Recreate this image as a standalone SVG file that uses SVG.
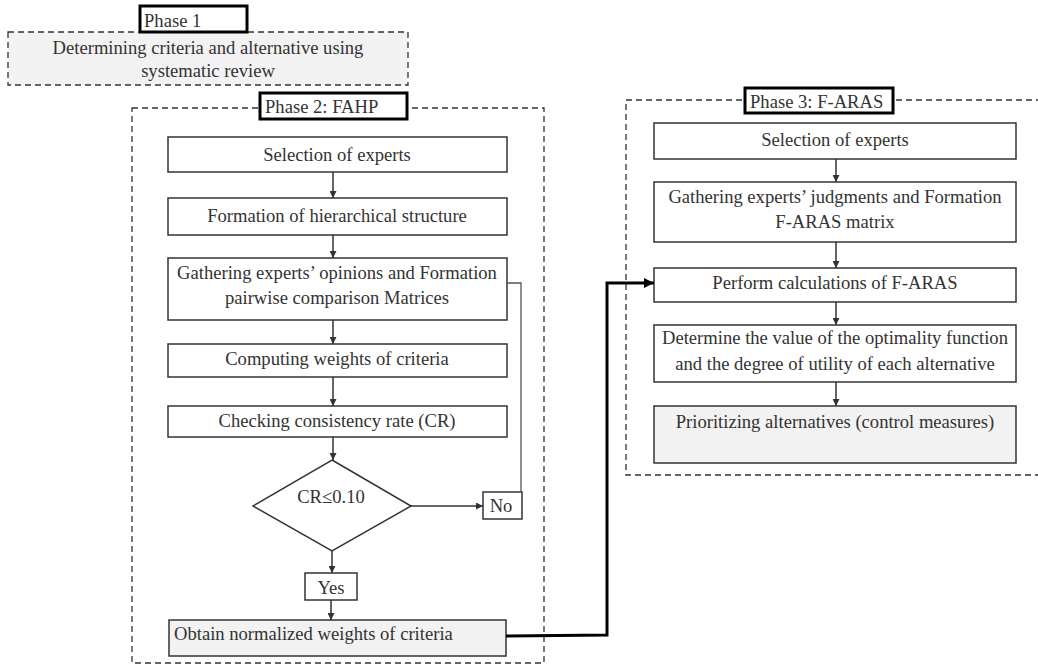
<svg xmlns="http://www.w3.org/2000/svg" width="1038" height="666" viewBox="0 0 1038 666">
<style>
  text { font-family: "Liberation Serif", "Times New Roman", serif; font-size: 18.6px; fill: #333; }
  .c { text-anchor: middle; }
  .box { fill: #fff; stroke: #333; stroke-width: 1.5; }
  .gbox { fill: #f2f2f2; stroke: #333; stroke-width: 1.5; }
  .dash { fill: none; stroke: #333; stroke-width: 1.3; stroke-dasharray: 6 4; }
  .label { fill: #fff; stroke: #000; stroke-width: 3; }
  .arr { fill: none; stroke: #333; stroke-width: 1.5; marker-end: url(#ah); }
  .fb { fill: none; stroke: #555; stroke-width: 1.3; }
  .thick { fill: none; stroke: #000; stroke-width: 3; marker-end: url(#ahb); }
</style>
<defs>
  <marker id="ah" viewBox="0 0 10 10" refX="10" refY="5" markerWidth="7" markerHeight="7" markerUnits="userSpaceOnUse" orient="auto">
    <path d="M0,0 L10,5 L0,10 z" fill="#333"/>
  </marker>
  <marker id="ahb" viewBox="0 0 10 10" refX="10" refY="5" markerWidth="10" markerHeight="10" markerUnits="userSpaceOnUse" orient="auto">
    <path d="M0,0 L10,5 L0,10 z" fill="#000"/>
  </marker>
</defs>
<rect width="1038" height="666" fill="#fff"/>

<!-- Phase 1 -->
<g id="phase1">
  <rect class="dash" x="8" y="32" width="400" height="53" style="fill:#f2f2f2"/>
  <text class="c" x="208" y="54">Determining criteria and alternative using</text>
  <text class="c" x="208" y="77">systematic review</text>
  <rect class="label" x="140" y="6" width="107" height="26"/>
  <text x="144" y="27">Phase 1</text>
</g>

<!-- Phase 2 container -->
<g id="phase2">
  <rect class="dash" x="132" y="108" width="412" height="555"/>
  <rect class="label" x="260" y="93" width="147" height="26"/>
  <text x="265" y="113">Phase 2: FAHP</text>
</g>

<!-- Phase 3 container -->
<g id="phase3">
  <rect class="dash" x="626" y="100" width="430" height="375"/>
  <rect class="label" x="745" y="88" width="148" height="25"/>
  <text x="750" y="108">Phase 3: F-ARAS</text>
</g>

<!-- Phase 2 nodes -->
<g id="p2-selection">
  <rect class="box" x="168" y="137" width="339" height="35"/>
  <text class="c" x="337" y="161">Selection of experts</text>
</g>
<g id="p2-formation">
  <rect class="box" x="168" y="198" width="339" height="37"/>
  <text class="c" x="337" y="222">Formation of hierarchical structure</text>
</g>
<g id="p2-gathering">
  <rect class="box" x="168" y="258" width="339" height="62"/>
  <text class="c" x="337" y="279">Gathering experts’ opinions and Formation</text>
  <text class="c" x="337" y="304">pairwise comparison Matrices</text>
</g>
<g id="p2-computing">
  <rect class="box" x="168" y="344" width="339" height="33"/>
  <text class="c" x="337" y="365">Computing weights of criteria</text>
</g>
<g id="p2-checking">
  <rect class="box" x="168" y="406" width="339" height="31"/>
  <text class="c" x="337" y="427">Checking consistency rate (CR)</text>
</g>
<g id="p2-decision">
  <polygon class="box" points="332,460 411,506 332,551 253,506"/>
  <text class="c" x="331" y="503">CR≤0.10</text>
</g>
<g id="p2-no">
  <rect class="box" x="483" y="492" width="39" height="27"/>
  <text class="c" x="501" y="512">No</text>
</g>
<g id="p2-yes">
  <rect class="box" x="305" y="573" width="52" height="27"/>
  <text class="c" x="331" y="594">Yes</text>
</g>
<g id="p2-obtain">
  <rect class="gbox" x="169" y="620" width="337" height="36"/>
  <text x="174" y="640">Obtain normalized weights of criteria</text>
</g>

<!-- Phase 3 nodes -->
<g id="p3-selection">
  <rect class="box" x="654" y="123" width="362" height="36"/>
  <text class="c" x="835" y="146">Selection of experts</text>
</g>
<g id="p3-gathering">
  <rect class="box" x="654" y="182" width="362" height="60"/>
  <text class="c" x="835" y="203">Gathering experts’ judgments and Formation</text>
  <text class="c" x="835" y="228">F-ARAS matrix</text>
</g>
<g id="p3-perform">
  <rect class="box" x="654" y="268" width="362" height="34"/>
  <text class="c" x="835" y="289">Perform calculations of F-ARAS</text>
</g>
<g id="p3-determine">
  <rect class="box" x="654" y="325" width="362" height="57"/>
  <text class="c" x="835" y="344">Determine the value of the optimality function</text>
  <text class="c" x="835" y="370">and the degree of utility of each alternative</text>
</g>
<g id="p3-prioritizing">
  <rect class="gbox" x="654" y="406" width="362" height="57"/>
  <text class="c" x="835" y="428">Prioritizing alternatives (control measures)</text>
</g>

<!-- Connectors -->
<g id="connectors">
  <line class="arr" x1="333" y1="172" x2="333" y2="198"/>
  <line class="arr" x1="333" y1="235" x2="333" y2="258"/>
  <line class="arr" x1="333" y1="320" x2="333" y2="344"/>
  <line class="arr" x1="333" y1="377" x2="333" y2="406"/>
  <line class="arr" x1="333" y1="437" x2="333" y2="460"/>
  <line class="arr" x1="411" y1="506" x2="483" y2="506"/>
  <line class="arr" x1="332" y1="551" x2="332" y2="573"/>
  <line class="arr" x1="331" y1="600" x2="331" y2="620"/>
  <polyline class="fb" points="507,283 521,283 521,492"/>
  <path class="thick" d="M506,636 L607,635 L607,283 L654,283"/>
  <line class="arr" x1="836" y1="159" x2="836" y2="182"/>
  <line class="arr" x1="836" y1="242" x2="836" y2="268"/>
  <line class="arr" x1="836" y1="302" x2="836" y2="325"/>
  <line class="arr" x1="836" y1="382" x2="836" y2="406"/>
</g>
</svg>
